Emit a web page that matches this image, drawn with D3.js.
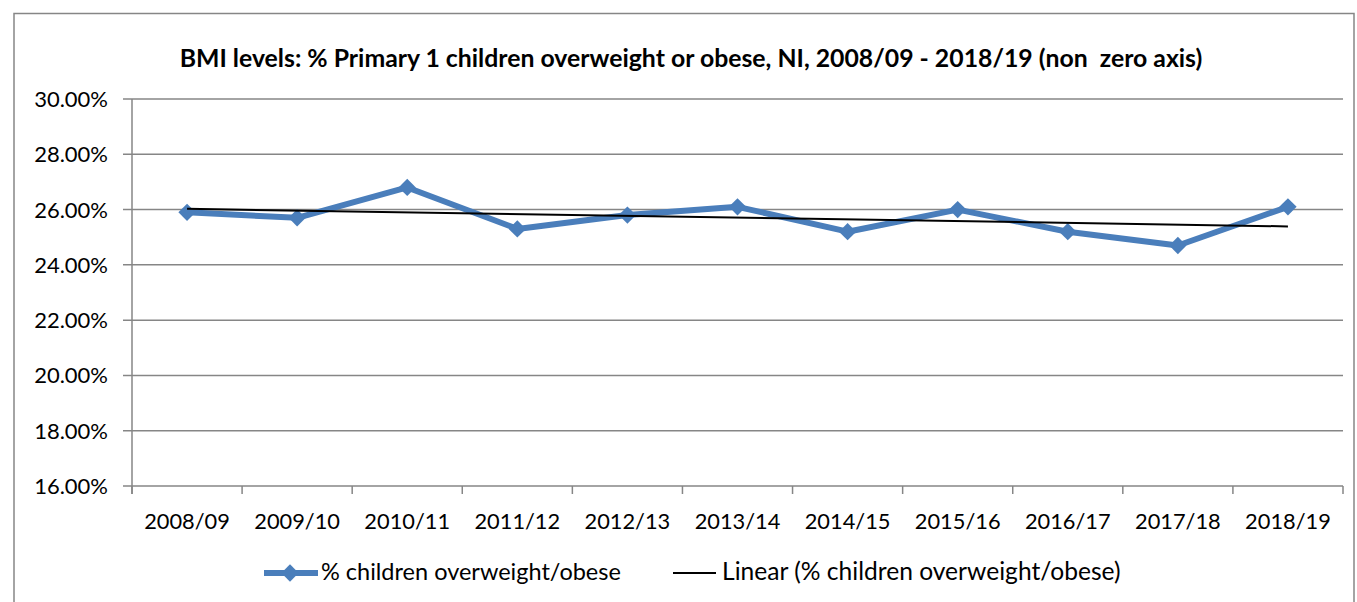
<!DOCTYPE html>
<html>
<head>
<meta charset="utf-8">
<script src="https://cdn.jsdelivr.net/npm/d3@7"></script>
<style>
  body { margin: 0; background: #fff; }
  text { font-family: Lato, "Open Sans", sans-serif; fill: #000; white-space: pre; }
</style>
</head>
<body>
<script>
// data
var years = ["2008/09", "2009/10", "2010/11", "2011/12", "2012/13", "2013/14",
             "2014/15", "2015/16", "2016/17", "2017/18", "2018/19"];
var pctOverweight = [25.9, 25.7, 26.8, 25.3, 25.8, 26.1, 25.2, 26.0, 25.2, 24.7, 26.1];
var yTicks = [16, 18, 20, 22, 24, 26, 28, 30];

var width = 1357, height = 602;
var blue = "#4a7ebb", grey = "#868686";

var svg = d3.select("body")
    .append("svg")
    .attr("width", width)
    .attr("height", height);

// chart frame
svg.append("rect")
    .attr("x", 14)
    .attr("y", 13.5)
    .attr("width", 1340)
    .attr("height", 600)
    .attr("fill", "none")
    .attr("stroke", grey)
    .attr("stroke-width", 1.5);

svg.append("text")
    .attr("x", 691)
    .attr("y", 67)
    .attr("text-anchor", "middle")
    .style("font-size", "24.8px")
    .style("font-weight", "bold")
    .text("BMI levels: % Primary 1 children overweight or obese, NI, 2008/09 - 2018/19 (non  zero axis)");

var x = d3.scaleBand().domain(years).range([132, 1343]);
var y = d3.scaleLinear().domain([16, 30]).range([486, 99]);

// gridlines
svg.selectAll(".grid")
    .data(yTicks)
    .enter().append("line")
    .attr("x1", 123)
    .attr("x2", 1343)
    .attr("y1", function(d) { return y(d); })
    .attr("y2", function(d) { return y(d); })
    .attr("stroke", grey)
    .attr("stroke-width", 1.5);

// y axis
svg.append("line")
    .attr("x1", 132).attr("x2", 132)
    .attr("y1", 99).attr("y2", 494)
    .attr("stroke", grey).attr("stroke-width", 1.5);

svg.selectAll(".ylab")
    .data(yTicks)
    .enter().append("text")
    .attr("x", 108)
    .attr("y", function(d) { return y(d) + 8; })
    .attr("text-anchor", "end")
    .style("font-size", "22px")
    .text(function(d) { return d.toFixed(2) + "%"; });

// x axis ticks at band edges
var edges = years.map(function(d) { return x(d); }).concat([1343]);
svg.selectAll(".xtick")
    .data(edges)
    .enter().append("line")
    .attr("x1", function(d) { return d; })
    .attr("x2", function(d) { return d; })
    .attr("y1", 486).attr("y2", 494)
    .attr("stroke", grey).attr("stroke-width", 1.5);

svg.selectAll(".xlab")
    .data(years)
    .enter().append("text")
    .attr("x", function(d) { return x(d) + x.bandwidth() / 2; })
    .attr("y", 529)
    .attr("text-anchor", "middle")
    .style("font-size", "21.8px")
    .text(function(d) { return d; });

// linear trend (least squares)
var n = pctOverweight.length;
var mx = (n - 1) / 2, my = d3.mean(pctOverweight);
var sxy = d3.sum(pctOverweight, function(v, i) { return (i - mx) * (v - my); });
var sxx = d3.sum(pctOverweight, function(v, i) { return (i - mx) * (i - mx); });
var slope = sxy / sxx;
var cx = function(i) { return x(years[i]) + x.bandwidth() / 2; };

// data line
var line = d3.line()
    .x(function(d, i) { return cx(i); })
    .y(function(d) { return y(d); });

svg.append("path")
    .datum(pctOverweight)
    .attr("d", line)
    .attr("fill", "none")
    .attr("stroke", blue)
    .attr("stroke-width", 6)
    .attr("stroke-linejoin", "round");

var diamond = d3.symbol().type(d3.symbolSquare).size(150);
svg.selectAll(".pt")
    .data(pctOverweight)
    .enter().append("path")
    .attr("d", diamond)
    .attr("transform", function(d, i) { return "translate(" + cx(i) + "," + y(d) + ") rotate(45)"; })
    .attr("fill", blue);

svg.append("line")
    .attr("x1", cx(0))
    .attr("x2", cx(n - 1))
    .attr("y1", y(my - slope * mx))
    .attr("y2", y(my + slope * mx))
    .attr("stroke", "#000")
    .attr("stroke-width", 2);

// legend
svg.append("line")
    .attr("x1", 264).attr("x2", 318)
    .attr("y1", 573).attr("y2", 573)
    .attr("stroke", blue).attr("stroke-width", 6);
svg.append("path")
    .attr("d", diamond)
    .attr("transform", "translate(290,573) rotate(45)")
    .attr("fill", blue);
svg.append("text")
    .attr("x", 321).attr("y", 580)
    .style("font-size", "23.5px")
    .text("% children overweight/obese");

svg.append("line")
    .attr("x1", 673).attr("x2", 716)
    .attr("y1", 573).attr("y2", 573)
    .attr("stroke", "#000").attr("stroke-width", 2);
svg.append("text")
    .attr("x", 722).attr("y", 580)
    .style("font-size", "24.6px")
    .text("Linear (% children overweight/obese)");
</script>
</body>
</html>
